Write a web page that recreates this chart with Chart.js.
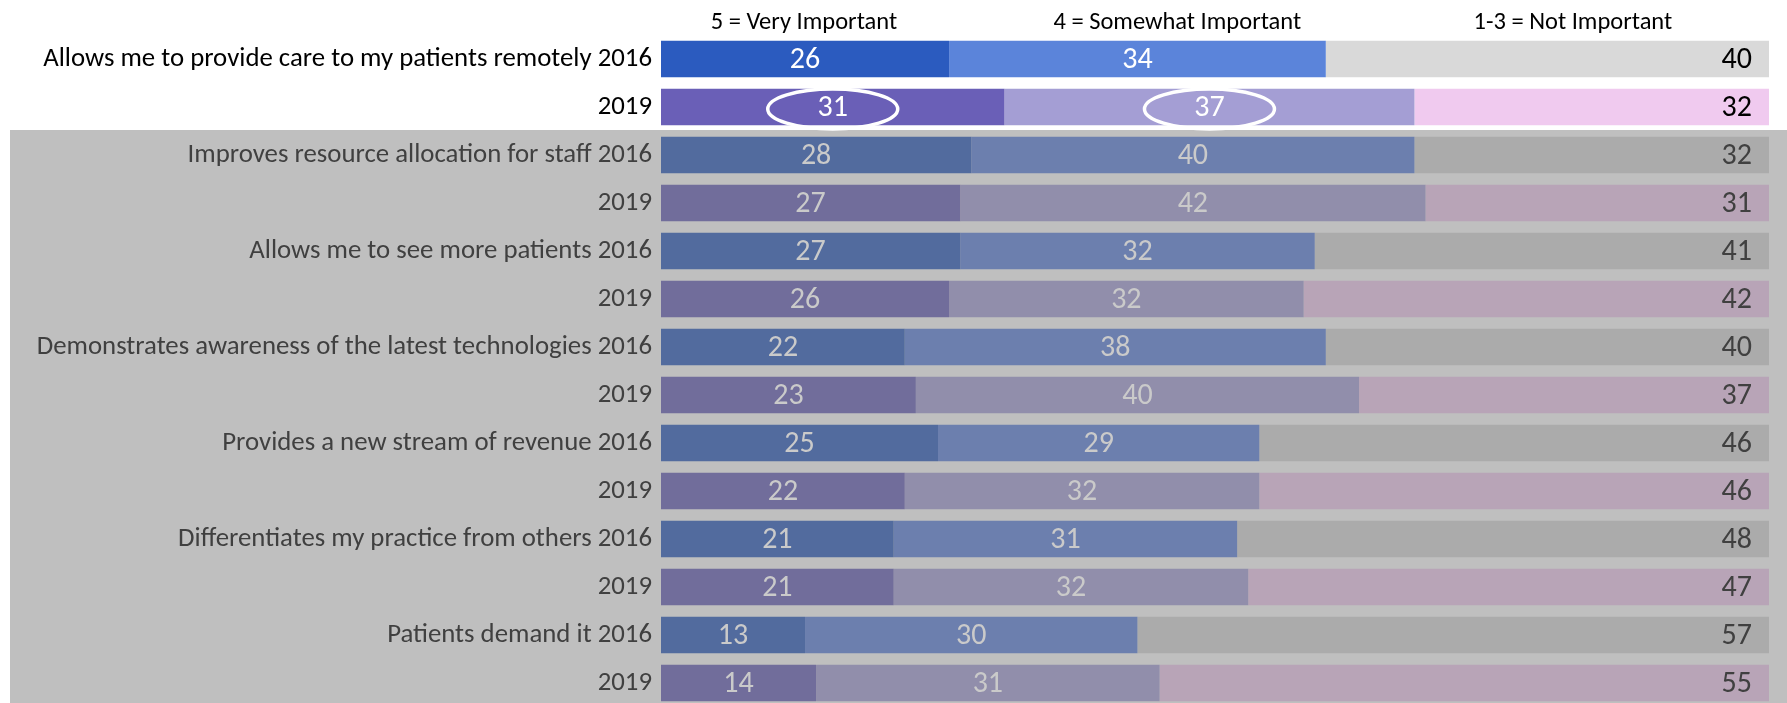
<!DOCTYPE html>
<html>
<head>
<meta charset="utf-8">
<title>Telehealth importance 2016 vs 2019</title>
<script src="https://cdn.jsdelivr.net/npm/chart.js@4.4.1/dist/chart.umd.min.js"></script>
<style>
    html, body { margin: 0; padding: 0; background: #fff; overflow: hidden; }
    .wrap { position: relative; width: 1787px; height: 707px; }
</style>
</head>
<body>
<div class="wrap"><canvas id="chart"></canvas></div>
<script>
// dados
const rowLabels = [
    'Allows me to provide care to my patients remotely 2016', '2019',
    'Improves resource allocation for staff 2016', '2019',
    'Allows me to see more patients 2016', '2019',
    'Demonstrates awareness of the latest technologies 2016', '2019',
    'Provides a new stream of revenue 2016', '2019',
    'Differentiates my practice from others 2016', '2019',
    'Patients demand it 2016', '2019'
];
const veryImportant     = [26, 31, 28, 27, 27, 26, 22, 23, 25, 22, 21, 21, 13, 14];
const somewhatImportant = [34, 37, 40, 42, 32, 32, 38, 40, 29, 32, 31, 32, 30, 31];
const notImportant      = [40, 32, 32, 31, 41, 42, 40, 37, 46, 46, 48, 47, 57, 55];
const seriesNames = ['5 = Very Important', '4 = Somewhat Important', '1-3 = Not Important'];
// where the column headers sit, in % along the bar
const headerAt = [12.9, 46.6, 82.3];
// labels circled in the 2019 row of the first item
const circled = [[1, 0], [1, 1]];

const FONT = 'Carlito, Calibri, sans-serif';
const highlightRows = 2;

// cores: [destaque 2016, destaque 2019, cinza 2016, cinza 2019]
const palette = [
    ['#2B5BBF', '#6A5FB7', '#526B9E', '#716D9B'],
    ['#5B84DA', '#A49ED4', '#6C7FAE', '#918EAB'],
    ['#D9D9D9', '#F0CAEF', '#ABABAB', '#B8A4B7']
];

function kind(i) {
    const year = i % 2;          // 0 = 2016, 1 = 2019
    return (i < highlightRows ? 0 : 2) + year;
}

function colorsFor(seg) {
    return rowLabels.map((_, i) => palette[seg][kind(i)]);
}

function valueColor(i, seg) {
    const hi = i < highlightRows;
    if (seg === 2) return hi ? '#000000' : '#404040';
    return hi ? '#FFFFFF' : '#CACACA';
}

// fundo cinza, rótulos e elipses
const decorations = {
    id: 'decorations',
    beforeDraw(chart) {
        const { ctx, scales: { y } } = chart;
        const top = (y.getPixelForValue(highlightRows - 1) + y.getPixelForValue(highlightRows)) / 2 - 1;
        ctx.save();
        ctx.fillStyle = '#BFBFBF';
        ctx.fillRect(10, top, chart.width - 10, chart.height - top);
        ctx.restore();
    },
    afterDatasetsDraw(chart) {
        const { ctx, scales: { x }, chartArea } = chart;
        ctx.save();

        // cabeçalhos das colunas
        ctx.font = '24.5px ' + FONT;
        ctx.fillStyle = '#000';
        ctx.textAlign = 'center';
        ctx.textBaseline = 'middle';
        seriesNames.forEach((name, k) => {
            ctx.fillText(name, x.getPixelForValue(headerAt[k]), chartArea.top - 12);
        });

        // valores dentro das barras
        ctx.font = '30px ' + FONT;
        chart.data.datasets.forEach((ds, seg) => {
            const meta = chart.getDatasetMeta(seg);
            meta.data.forEach((bar, i) => {
                ctx.fillStyle = valueColor(i, seg);
                if (seg === 2) {
                    ctx.textAlign = 'right';
                    ctx.fillText(ds.data[i], bar.x - 17, bar.y + 1);
                } else {
                    ctx.textAlign = 'center';
                    ctx.fillText(ds.data[i], (bar.base + bar.x) / 2, bar.y + 1);
                }
            });
        });

        // elipses
        ctx.strokeStyle = '#FFFFFF';
        ctx.lineWidth = 3.5;
        circled.forEach(([row, seg]) => {
            const bar = chart.getDatasetMeta(seg).data[row];
            const cx = (bar.base + bar.x) / 2;
            ctx.beginPath();
            ctx.ellipse(cx, bar.y + 2, 65, 20, 0, 0, Math.PI * 2);
            ctx.stroke();
        });
        ctx.restore();
    }
};

const ctx = document.getElementById('chart');
const chart = new Chart(ctx.getContext('2d'), {
    type: 'bar',
    data: {
        labels: rowLabels,
        datasets: [veryImportant, somewhatImportant, notImportant].map((values, seg) => ({
            label: seriesNames[seg],
            data: values,
            backgroundColor: colorsFor(seg),
            borderWidth: 0,
            barPercentage: 0.765,
            categoryPercentage: 1
        }))
    },
    options: {
        indexAxis: 'y',
        responsive: true,
        maintainAspectRatio: false,
        animation: false,
        layout: { padding: { top: 35, right: 18, bottom: 0, left: 0 } },
        plugins: {
            legend: { display: false },
            tooltip: { enabled: false }
        },
        scales: {
            x: {
                stacked: true,
                min: 0,
                max: 100,
                display: false
            },
            y: {
                stacked: true,
                grid: { display: false, drawTicks: false },
                border: { display: false },
                afterFit(scale) {
                    scale.width = 661;
                    scale.paddingTop = 0;
                    scale.paddingBottom = 0;
                },
                ticks: {
                    autoSkip: false,
                    padding: 9,
                    font: { family: FONT, size: 26.8 },
                    color: (c) => c.index < highlightRows ? '#000000' : '#404040'
                }
            }
        }
    },
    plugins: [decorations]
});
</script>
</body>
</html>
